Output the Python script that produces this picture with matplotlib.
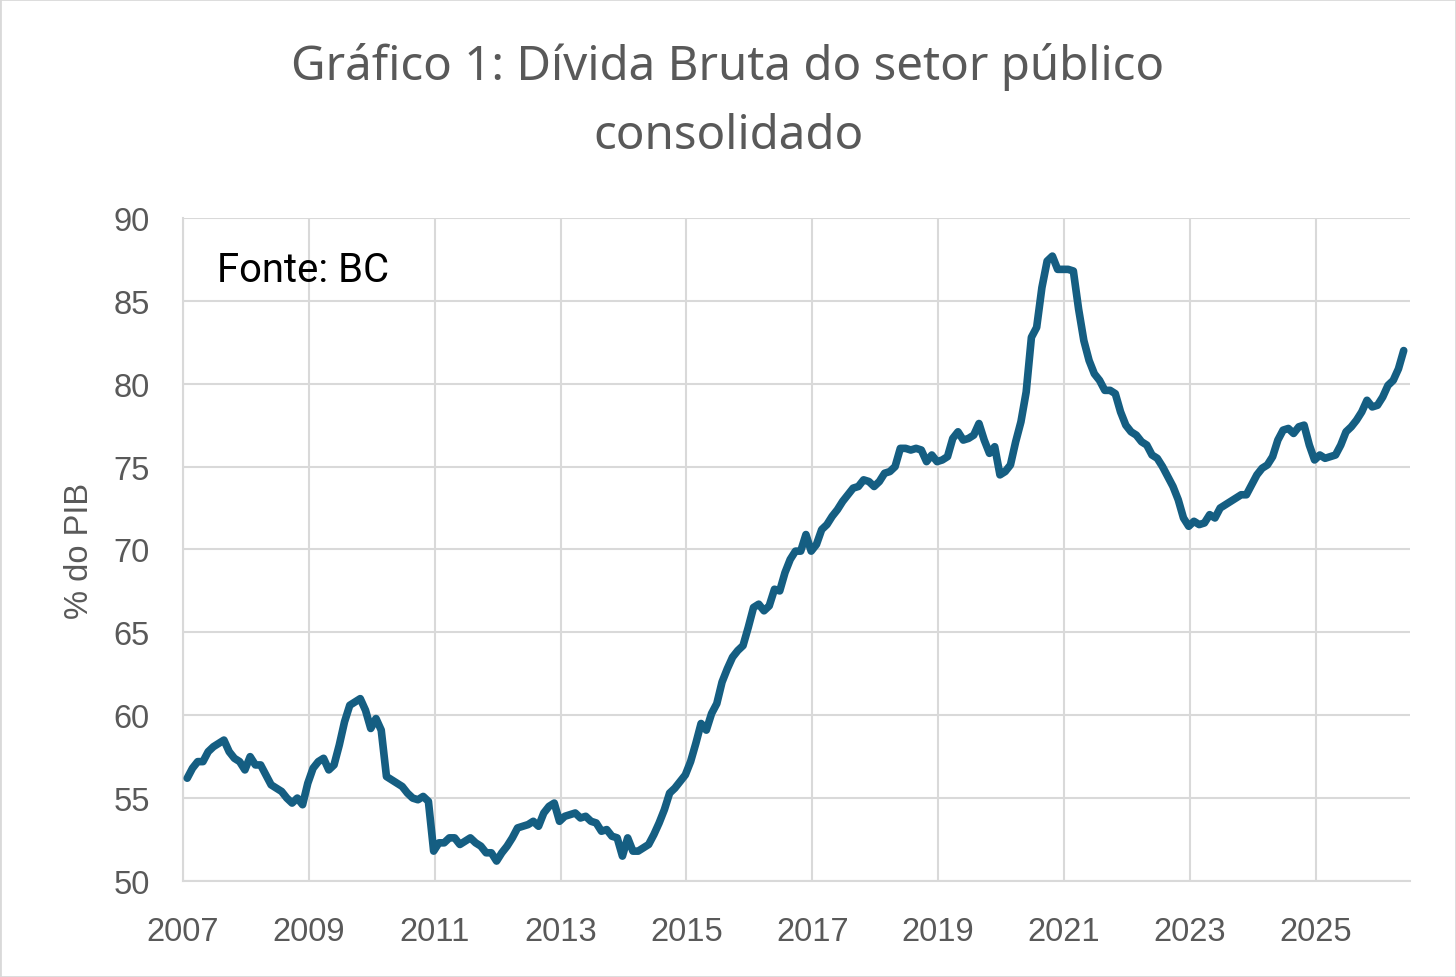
import numpy as np
import matplotlib
matplotlib.use("Agg")
import matplotlib.pyplot as plt
from matplotlib.patches import Rectangle

# Dívida bruta do setor público consolidado, % do PIB (mensal, a partir de jan/2007)
divida = (
    [56.2, 56.8, 57.2, 57.2, 57.8, 58.1, 58.3, 58.5, 57.8, 57.4, 57.2, 56.7]    # 2007
    + [57.5, 57.0, 57.0, 56.4, 55.8, 55.6, 55.4, 55.0, 54.7, 55.0, 54.6, 55.9]  # 2008
    + [56.8, 57.2, 57.4, 56.7, 57.0, 58.2, 59.6, 60.6, 60.8, 61.0, 60.3, 59.2]  # 2009
    + [59.8, 59.1, 56.3, 56.1, 55.9, 55.7, 55.3, 55.0, 54.9, 55.1, 54.8, 51.8]  # 2010
    + [52.3, 52.3, 52.6, 52.6, 52.2, 52.4, 52.6, 52.3, 52.1, 51.7, 51.7, 51.2]  # 2011
    + [51.7, 52.1, 52.6, 53.2, 53.3, 53.4, 53.6, 53.3, 54.1, 54.5, 54.7, 53.6]  # 2012
    + [53.9, 54.0, 54.1, 53.8, 53.9, 53.6, 53.5, 53.0, 53.1, 52.7, 52.6, 51.5]  # 2013
    + [52.6, 51.8, 51.8, 52.0, 52.2, 52.8, 53.5, 54.3, 55.3, 55.6, 56.0, 56.4]  # 2014
    + [57.2, 58.3, 59.5, 59.1, 60.1, 60.7, 62.0, 62.8, 63.5, 63.9, 64.2, 65.3]  # 2015
    + [66.5, 66.7, 66.3, 66.6, 67.6, 67.5, 68.6, 69.4, 69.9, 69.9, 70.9, 69.9]  # 2016
    + [70.3, 71.2, 71.5, 72.0, 72.4, 72.9, 73.3, 73.7, 73.8, 74.2, 74.1, 73.8]  # 2017
    + [74.1, 74.6, 74.7, 75.0, 76.1, 76.1, 76.0, 76.1, 76.0, 75.3, 75.7, 75.3]  # 2018
    + [75.4, 75.6, 76.7, 77.1, 76.6, 76.7, 76.9, 77.6, 76.6, 75.8, 76.2, 74.5]  # 2019
    + [74.7, 75.1, 76.5, 77.7, 79.5, 82.8, 83.4, 85.8, 87.4, 87.7, 86.9, 86.9]  # 2020
    + [86.9, 86.8, 84.5, 82.6, 81.4, 80.6, 80.2, 79.6, 79.6, 79.4, 78.3, 77.5]  # 2021
    + [77.1, 76.9, 76.5, 76.3, 75.7, 75.5, 75.0, 74.4, 73.8, 73.0, 71.9, 71.4]  # 2022
    + [71.7, 71.5, 71.6, 72.1, 71.9, 72.5, 72.7, 72.9, 73.1, 73.3, 73.3, 73.9]  # 2023
    + [74.5, 74.9, 75.1, 75.6, 76.6, 77.2, 77.3, 77.0, 77.4, 77.5, 76.3, 75.4]  # 2024
    + [75.7, 75.5, 75.6, 75.7, 76.3, 77.1, 77.4, 77.8, 78.3, 79.0, 78.6, 78.7]  # 2025
    + [79.2, 79.9, 80.2, 80.9, 82.0]                                            # 2026
)
anos_ticks = list(range(2007, 2027, 2))
y_ticks = list(range(50, 91, 5))

cinza = "#595959"
grade = "#d9d9d9"

x = 2007 + (np.arange(len(divida)) + 0.8) / 12

fig = plt.figure(figsize=(14.56, 9.78), dpi=100)
ax = fig.add_axes([0.1257, 0.0982, 0.8427, 0.6779])

ax.plot(x, divida, color="#155e82", linewidth=5.5, solid_joinstyle="round",
        solid_capstyle="round", zorder=3)

ax.set_xlim(2007, 2026.5)
ax.set_ylim(50, 90)
ax.set_xticks(anos_ticks)
ax.set_yticks(y_ticks)
ax.set_xticklabels([str(a) for a in anos_ticks])
ax.grid(True, color=grade, linewidth=1.5, zorder=0)
ax.tick_params(length=0, labelsize=23.5, labelcolor=cinza, pad=24)
for lab in ax.get_xticklabels() + ax.get_yticklabels():
    lab.set_family("Liberation Sans")
ax.tick_params(axis="x", pad=25)
for side in ["top", "right"]:
    ax.spines[side].set_visible(False)
for side in ["left", "bottom"]:
    ax.spines[side].set_color(grade)
    ax.spines[side].set_linewidth(1.5)

ax.set_ylabel("% do PIB", fontsize=23.5, color=cinza, family="Liberation Sans", labelpad=13)

ax.text(0.028, 0.922, "Fonte: BC", transform=ax.transAxes, fontsize=28.9,
        family="Roboto", color="black", va="center", ha="left")

fig.text(0.5, 0.896, "Gráfico 1: Dívida Bruta do setor público\nconsolidado",
         ha="center", va="center", fontsize=34.2, color=cinza, family="Noto Sans",
         linespacing=1.6)

fig.patches.append(Rectangle((0, 0), 1, 1, transform=fig.transFigure, fill=False,
                             edgecolor=grade, linewidth=2))

fig.savefig("out.png", dpi=100, facecolor="white")
